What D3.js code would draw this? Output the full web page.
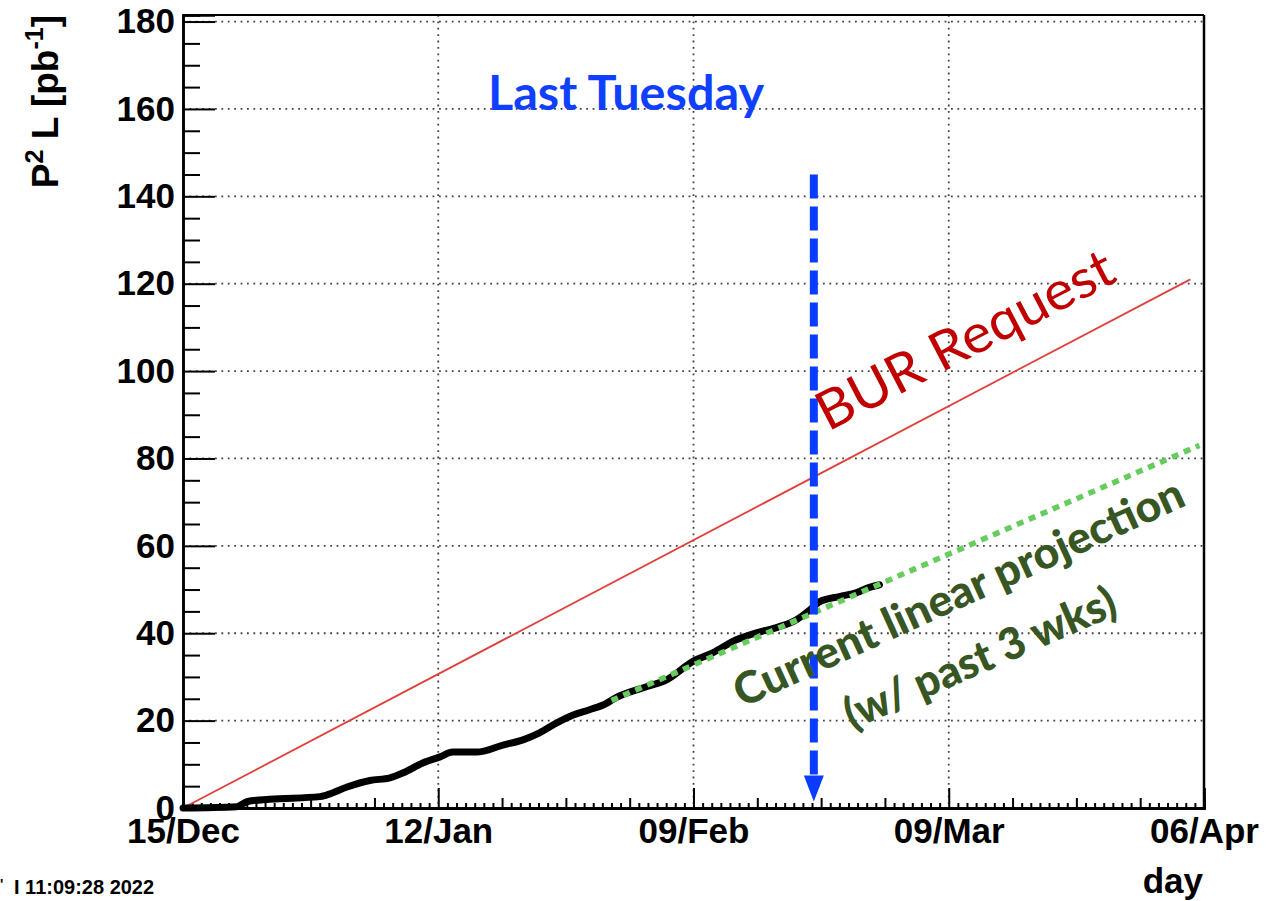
<!DOCTYPE html>
<meta charset="utf-8">
<script src="https://d3js.org/d3.v7.min.js"></script>
<style>
  body { margin: 0; background: #fff; }
  svg text { font-family: "Liberation Sans", Arial, sans-serif; }
</style>
<div id="chart"></div>
<script>

// data, x in days since 15/Dec/2021
var startDate = "2021-12-15", endDate = "2022-04-06";
var lumiDays   = [0, 5.9, 7.1, 9.5, 15.0, 15.8, 18.0, 20.5, 22.7, 24.1, 26.3, 28.2, 29.6, 32.2, 35.1, 37.3, 39.1, 41.0, 42.8, 44.6, 46.5, 47.1, 50.9, 53.1, 55.9, 58.1, 60.7, 62.9, 65.1, 67.3, 68.8, 69.8, 72.0, 73.9, 75.3, 76.4];
var lumiValues = [0, 0.3, 1.5, 2.0, 2.6, 3.0, 4.8, 6.3, 6.9, 8.0, 10.3, 11.7, 12.8, 12.8, 14.4, 15.6, 17.2, 19.5, 21.3, 22.5, 24.0, 24.8, 27.8, 29.4, 33.5, 35.5, 38.5, 40.1, 41.3, 43.1, 45.4, 47.2, 48.4, 49.3, 50.5, 51.1];
var burDays = [0, 110.5], burValues = [0, 121];
var projDays = [47, 111.5], projValues = [24.6, 83.0];
var markerDay = 69.2, markerTop = 145, markerBottom = 1.5;
var yTicks = [0, 20, 40, 60, 80, 100, 120, 140, 160, 180];

var W = 1268, H = 901;
var margin = {top: 15, right: 64, bottom: 93, left: 183},
    width = W - margin.left - margin.right,
    height = H - margin.top - margin.bottom;

var parse = d3.utcParse("%Y-%m-%d");
var t0 = parse(startDate), t1 = parse(endDate);
function day(d) { return new Date(t0.getTime() + d * 86400000); }

var svg = d3.select("#chart").append("svg")
    .attr("width", W).attr("height", H);
var g = svg.append("g")
    .attr("transform", "translate(" + margin.left + "," + margin.top + ")");

var x = d3.scaleUtc().domain([t0, t1]).range([0, width]);
var y = d3.scaleLinear().domain([0, 181.5]).range([height, 0]);

var allDays = d3.utcDay.range(t0, d3.utcDay.offset(t1, 1));
var majorDays = allDays.filter(function(d, i) { return i % 28 === 0; });
var weekDays = allDays.filter(function(d, i) { return i % 7 === 0 && i % 28 !== 0; });
var smallDays = allDays.filter(function(d, i) { return i % 7 !== 0; });

// grid
g.append("g").selectAll("line").data(yTicks.slice(1))
  .enter().append("line")
    .attr("x1", 0).attr("x2", width)
    .attr("y1", function(d) { return y(d); }).attr("y2", function(d) { return y(d); })
    .attr("stroke", "#444").attr("stroke-width", 1.8).attr("stroke-dasharray", "1.8,4.6");
g.append("g").selectAll("line").data(majorDays.slice(1, -1))
  .enter().append("line")
    .attr("x1", function(d) { return x(d); }).attr("x2", function(d) { return x(d); })
    .attr("y1", 0).attr("y2", height)
    .attr("stroke", "#444").attr("stroke-width", 1.8).attr("stroke-dasharray", "1.8,4.6");

// axes
g.append("g")
  .call(d3.axisLeft(y).tickValues(yTicks).tickSize(-32).tickPadding(8));
g.append("g")
  .call(d3.axisLeft(y).tickValues(d3.range(5, 180, 5).filter(function(v) { return v % 20; }))
    .tickSize(-17).tickFormat(""));
g.append("g").attr("transform", "translate(0," + height + ")")
  .call(d3.axisBottom(x).tickValues(majorDays).tickSize(-20).tickPadding(10)
    .tickFormat(d3.utcFormat("%d/%b")));
g.append("g").attr("transform", "translate(0," + height + ")")
  .call(d3.axisBottom(x).tickValues(weekDays).tickSize(-10).tickFormat(""));
g.append("g").attr("transform", "translate(0," + height + ")")
  .call(d3.axisBottom(x).tickValues(smallDays).tickSize(-5).tickFormat(""));

g.selectAll(".domain").attr("stroke", "#000").attr("stroke-width", 2.5);
g.selectAll(".tick line").attr("stroke", "#000").attr("stroke-width", 2);
g.selectAll(".tick text")
  .attr("font-family", "Liberation Sans").attr("font-weight", "bold")
  .attr("font-size", 35).attr("fill", "#000");

// frame top/right
g.append("line").attr("x1", 0).attr("x2", width).attr("y1", 0).attr("y2", 0)
  .attr("stroke", "#000").attr("stroke-width", 2);
g.append("line").attr("x1", width).attr("x2", width).attr("y1", 0).attr("y2", height)
  .attr("stroke", "#000").attr("stroke-width", 2.5);

// BUR request
g.append("path")
  .datum(d3.zip(burDays, burValues))
  .attr("fill", "none").attr("stroke", "#e0403c").attr("stroke-width", 1.8)
  .attr("d", d3.line().x(function(d) { return x(day(d[0])); }).y(function(d) { return y(d[1]); }));

// delivered
g.append("path")
  .datum(d3.zip(lumiDays, lumiValues))
  .attr("fill", "none").attr("stroke", "#000").attr("stroke-width", 7)
  .attr("stroke-linejoin", "round").attr("stroke-linecap", "round")
  .attr("d", d3.line().curve(d3.curveMonotoneX)
    .x(function(d) { return x(day(d[0])); }).y(function(d) { return y(d[1]); }));

// projection
g.append("path")
  .datum(d3.zip(projDays, projValues))
  .attr("fill", "none").attr("stroke", "#66cc5e").attr("stroke-width", 5.5)
  .attr("stroke-dasharray", "7,6")
  .attr("d", d3.line().x(function(d) { return x(day(d[0])); }).y(function(d) { return y(d[1]); }));

// marker arrow
var mx = x(day(markerDay));
g.append("line")
  .attr("x1", mx).attr("x2", mx)
  .attr("y1", y(markerTop)).attr("y2", y(markerBottom) - 24)
  .attr("stroke", "#0a3cff").attr("stroke-width", 8).attr("stroke-dasharray", "24,8");
g.append("path")
  .attr("d", "M" + (mx - 10) + "," + (y(markerBottom) - 26) + "L" + (mx + 10) + "," + (y(markerBottom) - 26) +
             "L" + mx + "," + y(markerBottom) + "Z")
  .attr("fill", "#0a3cff");

// labels
svg.append("text")
  .attr("transform", "translate(58,15) rotate(-90)")
  .attr("text-anchor", "end").attr("font-weight", "bold").attr("font-size", 37)
  .call(function(t) {
    t.append("tspan").text("P");
    t.append("tspan").attr("dy", -15).attr("font-size", 25).text("2");
    t.append("tspan").attr("dy", 15).text(" L [pb");
    t.append("tspan").attr("dy", -15).attr("font-size", 25).text("-1");
    t.append("tspan").attr("dy", 15).text("]");
  });

svg.append("text")
  .attr("x", 1203).attr("y", 893).attr("text-anchor", "end")
  .attr("font-weight", "bold").attr("font-size", 35).text("day");

svg.append("text")
  .attr("x", 14).attr("y", 894).attr("font-weight", "bold").attr("font-size", 20)
  .text("I 11:09:28 2022");
svg.append("text")
  .attr("x", 0).attr("y", 889).attr("font-weight", "bold").attr("font-size", 14)
  .text("'");

svg.append("text")
  .attr("x", 488).attr("y", 110)
  .attr("font-weight", "bold").attr("font-size", 47)
  .attr("fill", "#1040ff").attr("textLength", 276).attr("lengthAdjust", "spacingAndGlyphs")
  .style("font-family", "Lato")
  .text("Last Tuesday");

svg.append("text")
  .attr("transform", "translate(828,432) rotate(-27.5)")
  .style("font-family", "Lato").attr("font-size", 54).attr("fill", "#c00000")
  .attr("textLength", 328).attr("lengthAdjust", "spacingAndGlyphs")
  .text("BUR Request");

svg.append("text")
  .attr("transform", "translate(742,708) rotate(-24.5)")
  .style("font-family", "Lato").attr("font-weight", 900).attr("font-size", 44).attr("fill", "#375623")
  .attr("textLength", 490).attr("lengthAdjust", "spacingAndGlyphs")
  .text("Current linear projection");

svg.append("text")
  .attr("transform", "translate(852,730) rotate(-23.5)")
  .style("font-family", "Lato").attr("font-weight", 900).attr("font-size", 44).attr("fill", "#375623")
  .attr("textLength", 292).attr("lengthAdjust", "spacingAndGlyphs")
  .text("(w/ past 3 wks)");

</script>
